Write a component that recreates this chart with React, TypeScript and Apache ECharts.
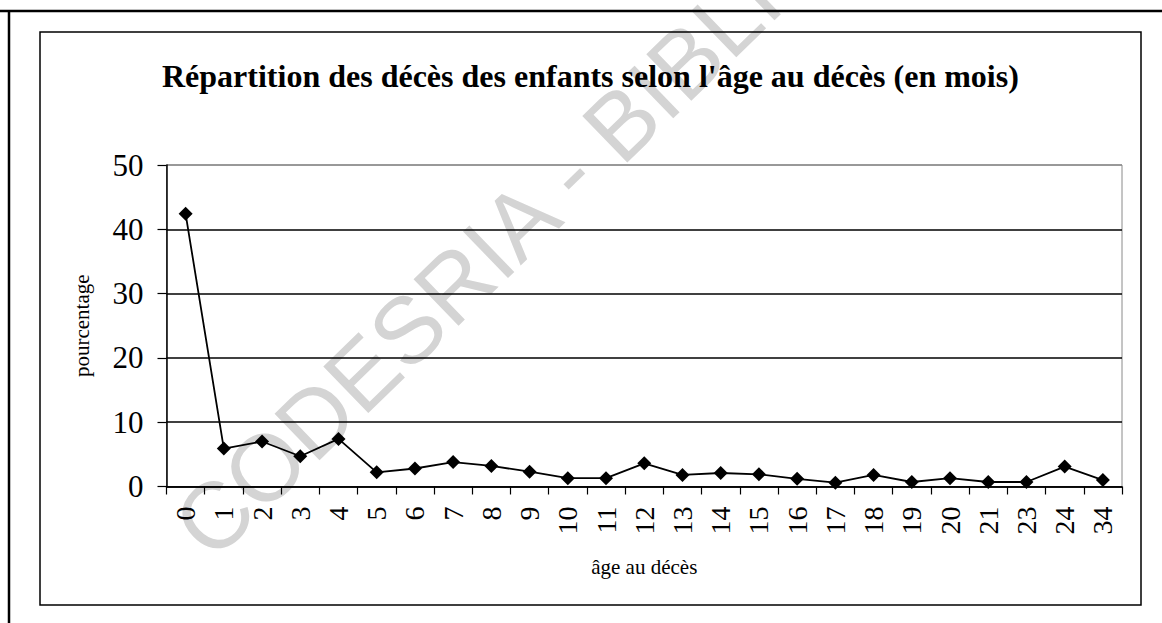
import React, { useEffect, useRef } from "react";
import * as echarts from "echarts";

const categories = ["0","1","2","3","4","5","6","7","8","9","10","11","12","13","14","15","16","17","18","19","20","21","23","24","34"];
const percentages = [42.4, 5.9, 7.0, 4.7, 7.4, 2.2, 2.8, 3.8, 3.2, 2.3, 1.3, 1.3, 3.6, 1.8, 2.1, 1.9, 1.2, 0.6, 1.8, 0.7, 1.3, 0.7, 0.7, 3.1, 1.0];
const yTicks = [0, 10, 20, 30, 40, 50];

const SERIF = '"Liberation Serif", "Times New Roman", serif';

export default function App() {
  const ref = useRef<HTMLDivElement>(null);
  useEffect(() => {
    if (!ref.current) return;
    const chart = echarts.init(ref.current, null, { renderer: "svg" });
    chart.setOption({
      animation: false,
      backgroundColor: "#ffffff",
      title: {
        text: "Répartition des décès des enfants selon l'âge au décès (en mois)",
        left: 157,
        top: 55,
        textStyle: { fontFamily: SERIF, fontWeight: "bold", fontSize: 32, color: "#000" },
      },
      graphic: [
        {
          type: "text",
          x: 190,
          y: 540,
          rotation: (44 * Math.PI) / 180,
          z: -10,
          silent: true,
          style: {
            text: "CODESRIA - BIBLIOTHEQUE",
            font: '94px "Liberation Sans", Arial, sans-serif',
            fill: "#d4d4d4",
            textAlign: "left",
            textVerticalAlign: "middle",
          },
        },
        { type: "line", shape: { x1: 0, y1: 11, x2: 1162, y2: 11 }, style: { stroke: "#000", lineWidth: 2.5 } },
        { type: "line", shape: { x1: 9, y1: 11, x2: 9, y2: 623 }, style: { stroke: "#000", lineWidth: 2.5 } },
        { type: "rect", shape: { x: 40, y: 32, width: 1101, height: 573 }, style: { stroke: "#000", lineWidth: 1.5, fill: "none" } },
      ],
      grid: {
        left: 166.5,
        right: 40,
        top: 165,
        bottom: 136.5,
        show: true,
        borderColor: "#8a8a8a",
        borderWidth: 1,
        backgroundColor: "transparent",
      },
      xAxis: {
        type: "category",
        data: categories,
        boundaryGap: true,
        name: "âge au décès",
        nameLocation: "middle",
        nameGap: 70,
        nameTextStyle: { fontFamily: SERIF, fontSize: 21, color: "#000" },
        axisLine: { show: true, lineStyle: { color: "#000", width: 1.5 } },
        axisTick: { show: true, length: 8, lineStyle: { color: "#000", width: 1.2 } },
        axisLabel: {
          interval: 0,
          rotate: 90,
          margin: 20,
          fontFamily: SERIF,
          fontSize: 28,
          color: "#000",
        },
        splitLine: { show: false },
      },
      yAxis: {
        type: "value",
        min: yTicks[0],
        max: yTicks[yTicks.length - 1],
        interval: 10,
        name: "pourcentage",
        nameLocation: "middle",
        nameGap: 74,
        nameRotate: 90,
        nameTextStyle: { fontFamily: SERIF, fontSize: 21, color: "#000" },
        axisLine: { show: true, lineStyle: { color: "#000", width: 1.5 } },
        axisTick: { show: true, length: 9, lineStyle: { color: "#000", width: 1.2 } },
        axisLabel: { margin: 23, fontFamily: SERIF, fontSize: 31, color: "#000" },
        splitLine: {
          show: true,
          lineStyle: { color: ["#000", "#000", "#000", "#000", "#000", "#8a8a8a"], width: 1.5 },
        },
      },
      series: [
        {
          type: "line",
          data: percentages,
          symbol: "diamond",
          symbolSize: 14,
          showAllSymbol: true,
          lineStyle: { color: "#000", width: 1.8 },
          itemStyle: { color: "#000" },
          z: 5,
        },
      ],
    });
    return () => chart.dispose();
  }, []);
  return (
    <div
      ref={ref}
      style={{ position: "fixed", left: 0, top: 0, width: 1162, height: 623, background: "#fff" }}
    />
  );
}
